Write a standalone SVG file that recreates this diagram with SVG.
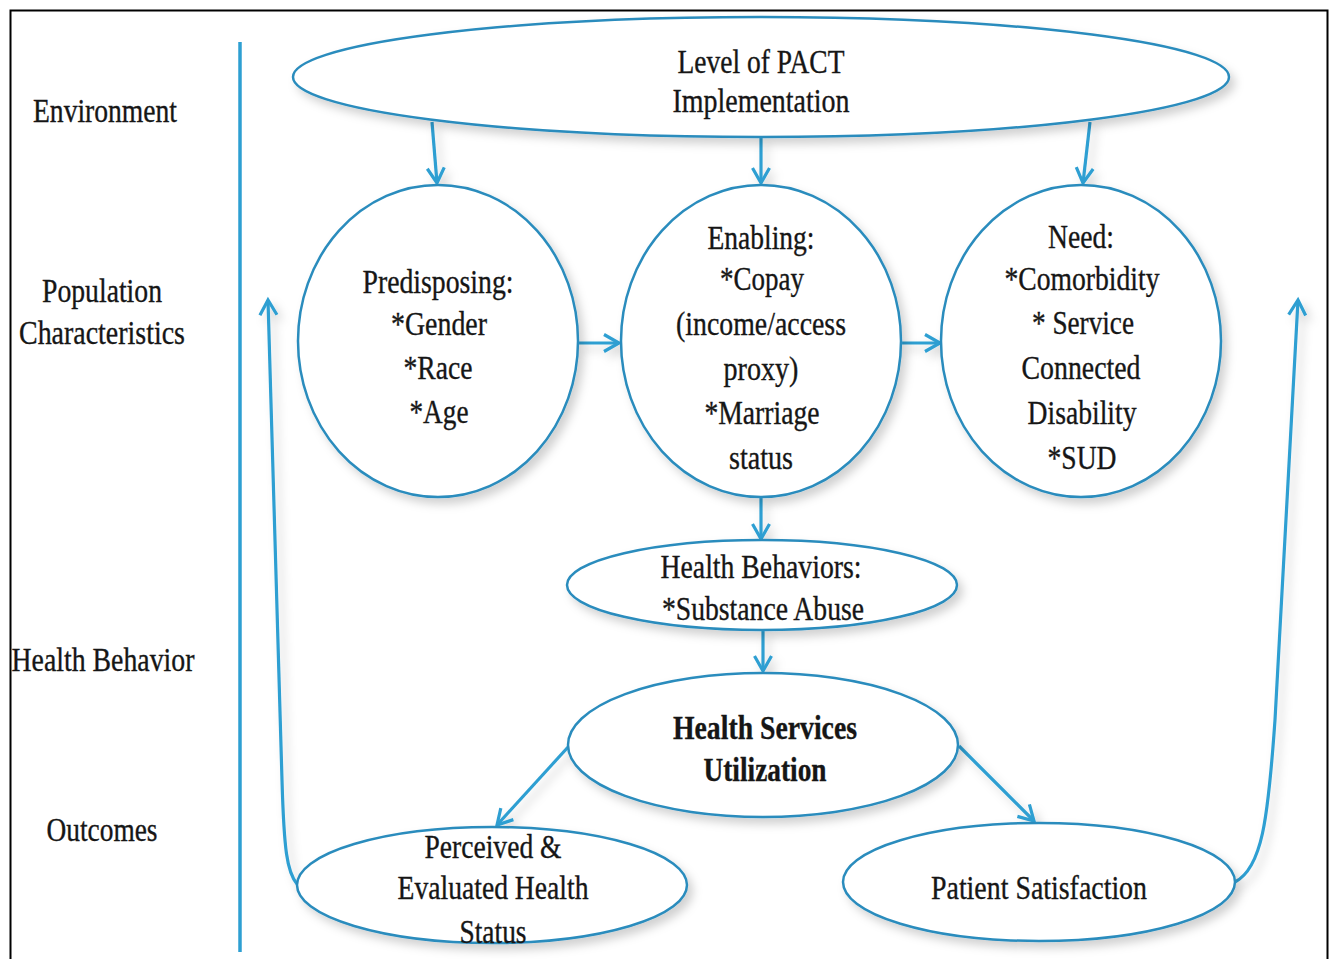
<svg xmlns="http://www.w3.org/2000/svg" width="1335" height="959" viewBox="0 0 1335 959">
<defs>
<filter id="sh" x="-10%" y="-10%" width="130%" height="140%">
<feDropShadow dx="5" dy="6" stdDeviation="5" flood-color="#000" flood-opacity="0.18"/>
</filter>
<marker id="ah" viewBox="0 0 22 22" refX="18" refY="11" markerWidth="22" markerHeight="22" markerUnits="userSpaceOnUse" orient="auto">
<path d="M3,2.5 L18,11 L3,19.5" fill="none" stroke="#2e9fd2" stroke-width="3.2" stroke-linejoin="miter"/>
</marker>
</defs>
<style>
.node{fill:#fff;stroke:#2a8cbd;stroke-width:2.5}
.t{font-family:"Liberation Serif","Times New Roman",serif;font-size:34px;fill:#161616;stroke:#161616;stroke-width:0.35;text-anchor:middle}
.b{font-weight:bold}
.c{fill:none;stroke:#2e9fd2;stroke-width:3.2;marker-end:url(#ah)}
</style>
<rect x="0" y="0" width="1335" height="959" fill="#fff"/>
<path d="M10.5,970 L10.5,10.5 L1327.5,10.5 L1327.5,970" fill="none" stroke="#000" stroke-width="2"/>
<g id="side-labels">
<line x1="240" y1="42" x2="240" y2="952" stroke="#2e9fd2" stroke-width="3.5"/>
<text class="t" x="105" y="122" textLength="144" lengthAdjust="spacingAndGlyphs">Environment</text>
<text class="t" x="102" y="302" textLength="120" lengthAdjust="spacingAndGlyphs">Population</text>
<text class="t" x="102" y="344" textLength="166" lengthAdjust="spacingAndGlyphs">Characteristics</text>
<text class="t" x="103" y="671" textLength="183" lengthAdjust="spacingAndGlyphs">Health Behavior</text>
<text class="t" x="102" y="841" textLength="111" lengthAdjust="spacingAndGlyphs">Outcomes</text>
</g>
<g id="connectors" filter="url(#sh)">
<path class="c" d="M432,122 L437,183"/>
<path class="c" d="M761,138 L761,183"/>
<path class="c" d="M1090,122 L1083,183"/>
<path class="c" d="M578,343 L619,343"/>
<path class="c" d="M901,343 L940,343"/>
<path class="c" d="M761,497 L761,539"/>
<path class="c" d="M763,630 L763,671"/>
<path class="c" d="M569,746 L497,825"/>
<path class="c" d="M959,746 L1034,821"/>
<path class="c" d="M297,884 C287,872 284,850 282,780 L268,300"/>
<path class="c" d="M1235,882 C1262,868 1268,820 1275,720 L1298,300"/>
</g>
<g id="pact">
<ellipse class="node" cx="761" cy="77" rx="468" ry="60" filter="url(#sh)"/>
<text class="t" x="761" y="73" textLength="167" lengthAdjust="spacingAndGlyphs">Level of PACT</text>
<text class="t" x="761" y="112" textLength="177" lengthAdjust="spacingAndGlyphs">Implementation</text>
</g>
<g id="predisposing">
<ellipse class="node" cx="438" cy="341" rx="140" ry="156" filter="url(#sh)"/>
<text class="t" x="438" y="293" textLength="151" lengthAdjust="spacingAndGlyphs">Predisposing:</text>
<text class="t" x="439" y="335" textLength="96" lengthAdjust="spacingAndGlyphs">*Gender</text>
<text class="t" x="438" y="379" textLength="69" lengthAdjust="spacingAndGlyphs">*Race</text>
<text class="t" x="439" y="423" textLength="59" lengthAdjust="spacingAndGlyphs">*Age</text>
</g>
<g id="enabling">
<ellipse class="node" cx="761" cy="341" rx="140" ry="156" filter="url(#sh)"/>
<text class="t" x="761" y="249" textLength="107" lengthAdjust="spacingAndGlyphs">Enabling:</text>
<text class="t" x="762" y="290" textLength="84" lengthAdjust="spacingAndGlyphs">*Copay</text>
<text class="t" x="761" y="335" textLength="170" lengthAdjust="spacingAndGlyphs">(income/access</text>
<text class="t" x="761" y="380" textLength="75" lengthAdjust="spacingAndGlyphs">proxy)</text>
<text class="t" x="762" y="424" textLength="115" lengthAdjust="spacingAndGlyphs">*Marriage</text>
<text class="t" x="761" y="469" textLength="64" lengthAdjust="spacingAndGlyphs">status</text>
</g>
<g id="need">
<ellipse class="node" cx="1081" cy="341" rx="140" ry="156" filter="url(#sh)"/>
<text class="t" x="1081" y="248" textLength="66" lengthAdjust="spacingAndGlyphs">Need:</text>
<text class="t" x="1082" y="290" textLength="155" lengthAdjust="spacingAndGlyphs">*Comorbidity</text>
<text class="t" x="1083" y="334" textLength="102" lengthAdjust="spacingAndGlyphs">* Service</text>
<text class="t" x="1081" y="379" textLength="119" lengthAdjust="spacingAndGlyphs">Connected</text>
<text class="t" x="1082" y="424" textLength="109" lengthAdjust="spacingAndGlyphs">Disability</text>
<text class="t" x="1082" y="469" textLength="69" lengthAdjust="spacingAndGlyphs">*SUD</text>
</g>
<g id="health-behaviors">
<ellipse class="node" cx="762" cy="585" rx="195" ry="45" filter="url(#sh)"/>
<text class="t" x="761" y="578" textLength="201" lengthAdjust="spacingAndGlyphs">Health Behaviors:</text>
<text class="t" x="763" y="620" textLength="202" lengthAdjust="spacingAndGlyphs">*Substance Abuse</text>
</g>
<g id="utilization">
<ellipse class="node" cx="763" cy="745" rx="195" ry="72" filter="url(#sh)"/>
<text class="t b" x="765" y="739" textLength="184" lengthAdjust="spacingAndGlyphs">Health Services</text>
<text class="t b" x="765" y="781" textLength="123" lengthAdjust="spacingAndGlyphs">Utilization</text>
</g>
<g id="perceived">
<ellipse class="node" cx="492" cy="885" rx="195" ry="58" filter="url(#sh)"/>
<text class="t" x="493" y="858" textLength="137" lengthAdjust="spacingAndGlyphs">Perceived &amp;</text>
<text class="t" x="493" y="899" textLength="191" lengthAdjust="spacingAndGlyphs">Evaluated Health</text>
<text class="t" x="493" y="943" textLength="67" lengthAdjust="spacingAndGlyphs">Status</text>
</g>
<g id="satisfaction">
<ellipse class="node" cx="1039" cy="882" rx="196" ry="59" filter="url(#sh)"/>
<text class="t" x="1039" y="899" textLength="216" lengthAdjust="spacingAndGlyphs">Patient Satisfaction</text>
</g>
</svg>
